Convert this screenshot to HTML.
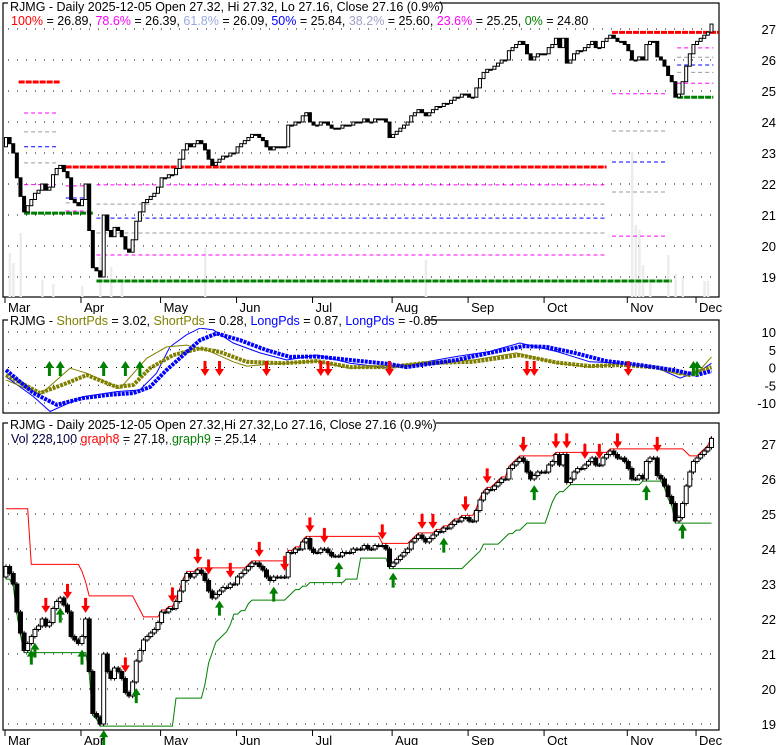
<!DOCTYPE html>
<html><head><meta charset="utf-8"><title>RJMG chart</title>
<style>
html,body{margin:0;padding:0;background:#fff;}
svg{display:block;font-family:"Liberation Sans",Arial,sans-serif;}
</style></head>
<body>
<svg id="chart" width="780" height="745" viewBox="0 0 780 745" xmlns="http://www.w3.org/2000/svg"></svg>
<script>
// ---------- DATA ----------
const closes = [
23.5,23.3,23.0,22.2,21.6,21.1,21.3,21.5,21.7,21.8,
22.0,21.8,21.9,22.3,22.5,22.6,22.4,22.2,21.5,21.4,
21.3,21.5,22.0,20.5,19.3,19.2,19.0,21.0,20.5,20.3,
20.6,20.5,20.3,19.9,19.8,20.2,20.8,21.1,21.4,21.5,
21.6,21.7,21.9,22.2,22.2,22.3,22.3,22.5,22.8,23.1,
23.3,23.2,23.3,23.4,23.3,23.1,22.8,22.6,22.7,22.8,
22.9,22.9,23.0,23.0,23.2,23.3,23.4,23.5,23.6,23.6,
23.5,23.4,23.2,23.1,23.2,23.2,23.2,23.2,23.9,23.9,
24.0,24.0,24.2,24.3,24.0,23.9,23.9,24.0,24.0,23.9,
23.8,23.8,23.8,23.9,23.9,23.9,24.0,24.0,24.0,24.1,
24.0,24.0,24.1,24.1,24.1,24.0,23.5,23.6,23.7,23.8,
23.9,24.0,24.2,24.3,24.4,24.3,24.2,24.3,24.4,24.5,
24.5,24.6,24.6,24.7,24.8,24.8,24.9,24.9,24.8,24.8,
25.1,25.4,25.6,25.7,25.7,25.8,25.9,26.0,26.0,26.3,
26.4,26.5,26.6,26.5,26.2,26.0,26.1,26.2,26.2,26.2,
26.4,26.5,26.7,26.4,26.7,25.9,26.0,26.2,26.3,26.3,
26.4,26.5,26.6,26.4,26.4,26.6,26.7,26.8,26.7,26.6,
26.6,26.5,26.3,26.0,26.0,26.1,26.0,26.5,26.6,26.6,
26.1,26.0,25.8,25.5,25.3,24.8,24.9,25.3,25.8,26.2,
26.5,26.6,26.7,26.8,26.9,27.16];
const firstOpen = 23.2;
const monthLabels = ["Mar","Apr","May","Jun","Jul","Aug","Sep","Oct","Nov","Dec"];
const monthStartDays = [0,21,43,64,85,107,128,149,172,191];
const priceTicks = [19,20,21,22,23,24,25,26,27];
const oscTicks = [10,5,0,-5,-10];
const volDays = [1,2,4,10,13,21,26,29,32,55,116,173,174,175,176,178,183,185,187,193,194];
const volValues = [440,340,640,170,130,110,400,300,150,490,370,1450,720,670,320,170,420,230,190,160,160];
const longThickDays = [0,7.6,14,21.4,28.7,35.2,39.8,44.4,49,53.6,58.2,64.7,72,78.5,85.9,95.1,105.7,110.7,124.5,133.7,142.9,149.4,156.8,166,175.2,184.4,190.9,195];
const longThickVals = [-0.7,-7.2,-10.5,-8.6,-7.7,-7.2,-5.5,-0.7,3.5,7.7,9.6,7.7,4.9,3.0,3.1,2.1,1.0,0.1,2.1,4.1,6.0,5.8,4.2,1.8,0.7,-0.7,-2.1,-1.0];
const shortThickDays = [0,9.4,16.8,22.3,30.6,35.2,39.8,46.2,53.6,59.1,66.5,76.7,85.9,95.1,105.7,115.3,129.1,142,152.2,161.4,170.6,179.8,189,195];
const shortThickVals = [-2.1,-7.2,-4.4,-2.1,-5.5,-4.9,-0.2,3.5,5.4,4.4,1.6,1.2,1.8,0.1,0.1,1.2,1.6,3.5,1.4,0.4,0.7,0,-2.1,0.1];
const longThinDays = [0,7.6,12.2,21.4,30.6,37,41.6,45.3,49.9,53.6,57.3,62.8,70.2,77.6,85.9,95.1,106.1,124.5,133.7,142,152.2,161.4,170.6,179.8,186.3,191.8,195];
const longThinVals = [-2.6,-8.2,-12.4,-8.2,-6.8,-6.3,-1.6,5.8,9.2,11.1,10.6,6.9,4.1,2.1,3.5,1.2,-0.2,3.1,4.5,6.9,4.5,1.6,1.2,0,-3.0,-1.0,1.2];
const shortThinDays = [0,9.4,17.7,22.3,31.5,38.9,44.4,49.9,55.5,62.8,66.5,76.7,85.9,95.1,115.3,129.1,141.1,152.2,161.4,170.6,179.8,186.3,191.8,195];
const shortThinVals = [-3.5,-7.7,-0.2,-1.6,-5.9,2.6,5.8,6.3,4.9,1.6,0.4,1.2,1.8,-0.2,1.2,2.1,4.1,1.2,0.1,1.2,0,-2.1,-0.7,3.0];
const oscUpDays = [12,15,27,33,37,190,191];
const oscDownDays = [55,59,72,87,89,106,144,146,172];
const sigUpDays = [7,8,15,21,27,36,59,74,92,107,121,146,177,187];
const sigDownDays = [11,17,22,33,46,53,56,62,70,77,84,88,104,115,118,127,133,143,152,155,160,164,169,180];
const fibStart = [3.5,5,5,5,5,5,16.5,16.5,16.5,16.5,5,16.5,25,25,25,25,25,25,167.5,167.5,167.5,167.5,167.5,167.5,185.5,185.5,185.5,185.5,185.5,185.5];
const fibEnd   = [15,14,14,14,14,14,24,24,24,24,24,166,166,166,166,166,166,184,197,183,183,183,183,183,195.5,195.5,195.5,195.5,195.5,195.5];
const fibPrice = [25.29,24.29,23.68,23.2,22.68,21.98,21.94,21.55,21.39,21.13,21.06,22.55,21.97,21.35,20.9,20.42,19.71,18.87,26.89,24.91,23.71,22.71,21.74,20.32,26.39,26.09,25.84,25.6,25.25,24.8];
const fibKind  = ["r","m","g","b","g","m","m","b","g","m","gr","r","m","g","b","g","m","gr","r","m","g","b","g","m","m","g","b","g","m","gr"];

// ---------- GEOMETRY ----------
const svg = document.getElementById('chart');
const NS = 'http://www.w3.org/2000/svg';
const L = 3, R = 719;
const X = d => 6 + d * 3.618;
const Y1 = p => 29 + (27 - p) * 31;
const Y2 = v => 367.5 - v * 3.55;
const Y3 = p => 444 + (27 - p) * 35;
function mk(tag, attrs, parent) {
  const e = document.createElementNS(NS, tag);
  for (const k in attrs) e.setAttribute(k, attrs[k]);
  (parent || svg).appendChild(e);
  return e;
}
const opens = closes.map((c, i) => i === 0 ? firstOpen : closes[i - 1]);
const highs = closes.map((c, i) => Math.max(c, opens[i]) + 0.06);
const lows = closes.map((c, i) => Math.min(c, opens[i]) - 0.06);
const colors = {r:'#ff0000', m:'#ff00ff', g:'#999999', b:'#0000ff', gr:'#008000'};

function panelFrame(top, bottom, name) {
  const f = mk('rect', {x:L, y:top, width:R-L, height:bottom-top, fill:'none', stroke:'#000', 'stroke-width':1.2});
  
  
}
function hgrid(y, name) {
  const g = mk('line', {x1:8, x2:716, y1:y, y2:y, stroke:'#000', 'stroke-width':1, 'stroke-dasharray':'1,8'});
  
  
}
function axisLabel(y, txt, name) {
  const t = mk('text', {x:776, y:y+5, 'text-anchor':'end', 'font-size':13, fill:'#000'});
  t.textContent = txt;
  
  
}
function xAxis(bottom, name) {
  monthLabels.forEach((m, i) => {
    const x = X(monthStartDays[i]) - 1;
    const tk = mk('line', {x1:x, x2:x, y1:bottom, y2:bottom+6, stroke:'#000'});
    
    
    const t = mk('text', {x:x+3, y:bottom+15, 'font-size':13, fill:'#000'});
    t.textContent = m;
    
    
  });
}
function header(x, y, parts, name) {
  const t = mk('text', {x:x, y:y, 'font-size':12.5});
  
  
  parts.forEach(p => {
    const s = mk('tspan', {fill:p[1]}, t);
    s.textContent = p[0];
  });
  return t;
}
function headerBg(x, y, w, h) {
  const b = mk('rect', {x:x, y:y, width:w, height:h, fill:'#fff'});
  
  
}
function arrow(x, tipY, up, color, name) {
  const s = up ? -1 : 1;
  const pts = [[x, tipY], [x-4.5, tipY - s*7], [x-1.5, tipY - s*7], [x-1.5, tipY - s*15], [x+1.5, tipY - s*15], [x+1.5, tipY - s*7], [x+4.5, tipY - s*7]];
  const a = mk('polygon', {points: pts.map(p => p.join(',')).join(' '), fill:color});
  
  
}
function candles(Y, w, name, wicks) {
  closes.forEach((c, i) => {
    const x = X(i), o = opens[i];
    if (wicks) {
      const wk = mk('line', {x1:x, x2:x, y1:Y(highs[i]), y2:Y(lows[i]), stroke:'#000', 'stroke-width':1});
      
      
    }
    const top = Y(Math.max(o, c)), bot = Y(Math.min(o, c));
    const bd = mk('rect', {x:x-w/2, y:top, width:w, height:Math.max(1, bot-top), fill: c < o ? '#000' : '#fff', stroke:'#000', 'stroke-width':1});
    
    
  });
}
function polyline(days, vals, Y, color, width, name, dash) {
  const pts = days.map((d, i) => X(d).toFixed(1) + ',' + Y(vals[i]).toFixed(1)).join(' ');
  const p = mk('polyline', {points:pts, fill:'none', stroke:color, 'stroke-width':width});
  if (dash) p.setAttribute('stroke-dasharray', dash);
  
  
}

// ---------- PANEL 1 ----------
panelFrame(3, 297, 'price-panel-frame');
volDays.forEach((d, i) => {
  const h = volValues[i] / 10;
  const v = mk('rect', {x:X(d)-1, y:297-h, width:2.5, height:h, fill:'#ececec'});
  
  
});
priceTicks.forEach(p => { hgrid(Y1(p), 'price-gridline'); axisLabel(Y1(p), String(p), 'price-axis-label'); });
fibPrice.forEach((p, i) => {
  const k = fibKind[i];
  const thick = (k === 'r' || k === 'gr');
  const l = mk('line', {x1:X(fibStart[i]), x2:X(fibEnd[i]), y1:Y1(p), y2:Y1(p), stroke:colors[k], 'stroke-width': thick ? 3 : 1, 'stroke-dasharray': thick ? '6,1' : '4,3'});
  
  
});
candles(Y1, 3, 'price-candle', false);
xAxis(297, 'x-axis-month-label');
headerBg(8, 0, 428, 27);
header(10, 11, [['RJMG - Daily 2025-12-05 Open 27.32, Hi 27.32, Lo 27.16, Close 27.16 (0.9%)', '#000']], 'price-panel-title');
header(11, 25, [['100%','#ff0000'],[' = 26.89, ','#000'],['78.6%','#ff00ff'],[' = 26.39, ','#000'],['61.8%','#99aadd'],[' = 26.09, ','#000'],['50%','#0000ff'],[' = 25.84, ','#000'],['38.2%','#a0a0c8'],[' = 25.60, ','#000'],['23.6%','#ff00ff'],[' = 25.25, ','#000'],['0%','#008000'],[' = 24.80','#000']], 'fib-legend');

// ---------- PANEL 2 ----------
panelFrame(320, 413, 'oscillator-panel-frame');
oscTicks.forEach(v => { hgrid(Y2(v), 'oscillator-gridline'); axisLabel(Y2(v), String(v), 'oscillator-axis-label'); });
polyline(longThinDays, longThinVals, Y2, '#0000ff', 1, 'long-pds-thin-line');
polyline(shortThinDays, shortThinVals, Y2, '#808000', 1, 'short-pds-thin-line');
polyline(shortThickDays, shortThickVals, Y2, '#808000', 4, 'short-pds-thick-line', '3,1');
polyline(longThickDays, longThickVals, Y2, '#0000ff', 4, 'long-pds-thick-line', '3,1');
oscUpDays.forEach(d => arrow(X(d), 361, true, '#008000', 'oscillator-buy-arrow'));
oscDownDays.forEach(d => arrow(X(d), 376, false, '#ff0000', 'oscillator-sell-arrow'));
headerBg(8, 314, 418, 14);
header(10, 325, [['RJMG - ','#000'],['ShortPds','#808000'],[' = 3.02, ','#000'],['ShortPds','#808000'],[' = 0.28, ','#000'],['LongPds','#0000ff'],[' = 0.87, ','#000'],['LongPds','#0000ff'],[' = -0.85','#000']], 'oscillator-panel-title');

// ---------- PANEL 3 ----------
panelFrame(423, 730, 'signal-panel-frame');
priceTicks.forEach(p => { hgrid(Y3(p), 'signal-gridline'); axisLabel(Y3(p), String(p), 'signal-axis-label'); });
const redLine = closes.map((c, i) => {
  let m = i < 7 ? 25.15 : -1e9;
  for (let j = Math.max(0, i - 19); j <= i; j++) m = Math.max(m, highs[j]);
  return m;
});
const greenLine = closes.map((c, i) => {
  let m = 1e9;
  for (let j = Math.max(0, i - 19); j <= i; j++) m = Math.min(m, lows[j]);
  return m;
});
const allDays = closes.map((c, i) => i);
polyline(allDays, redLine, Y3, '#ff0000', 1, 'graph8-resistance-line');
polyline(allDays, greenLine, Y3, '#008000', 1, 'graph9-support-line');
candles(Y3, 4, 'signal-candle', true);
sigDownDays.forEach(d => arrow(X(d), Y3(highs[d]) - 4, false, '#ff0000', 'sell-signal-arrow'));
sigUpDays.forEach(d => arrow(X(d), Y3(lows[d]) + 4, true, '#008000', 'buy-signal-arrow'));
xAxis(730, 'x-axis-month-label');
headerBg(8, 418, 428, 24);
header(10, 429, [['RJMG - Daily 2025-12-05 Open 27.32,Hi 27.32,Lo 27.16, Close 27.16 (0.9%)','#000']], 'signal-panel-title');
header(11, 443, [['Vol 228,100 ','#000040'],['graph8','#ff0000'],[' = 27.18, ','#000'],['graph9','#008000'],[' = 25.14','#000']], 'signal-legend');
</script>
</body></html>
